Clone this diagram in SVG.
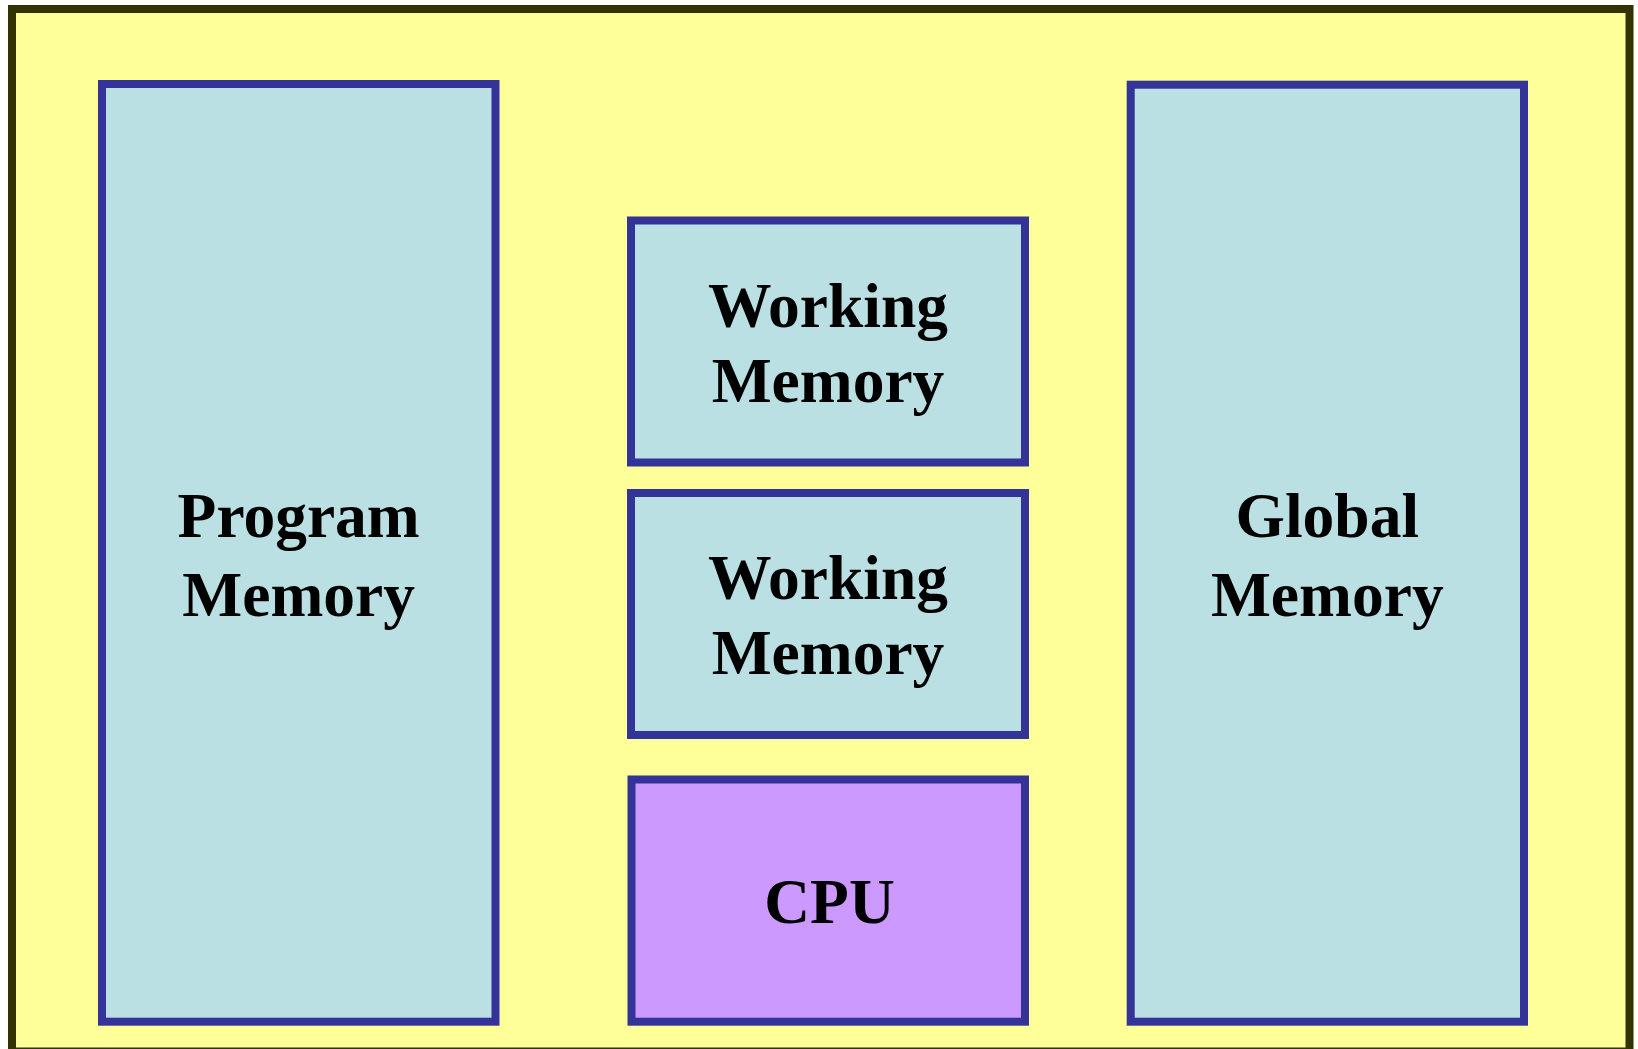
<svg xmlns="http://www.w3.org/2000/svg" width="1638" height="1049" viewBox="0 0 1638 1049">
  <style>
    .frame { fill: #FFFF99; stroke: #333300; stroke-width: 8; }
    .mem { fill: #BBE0E3; stroke: #333399; stroke-width: 8; }
    .cpu { fill: #CC99FF; stroke: #333399; stroke-width: 8; }
    .label { font-family: "Liberation Serif", "Times New Roman", serif; font-weight: bold; font-size: 63.5px; fill: #000000; text-anchor: middle; }
  </style>
  <rect width="1638" height="1049" fill="#FFFFFF"/>
  <!-- machine outline -->
  <rect id="machine" class="frame" x="12" y="9" width="1617.5" height="1042.5"/>

  <g id="program-memory">
    <rect class="mem" x="102" y="84" width="393.5" height="937.7"/>
    <text class="label" x="298.7" y="537">Program</text>
    <text class="label" x="298.7" y="616">Memory</text>
  </g>

  <g id="working-memory-1">
    <rect class="mem" x="631" y="220.5" width="394" height="242"/>
    <text class="label" x="828" y="326.7">Working</text>
    <text class="label" x="828" y="401.7">Memory</text>
  </g>

  <g id="working-memory-2">
    <rect class="mem" x="631" y="493" width="394" height="242"/>
    <text class="label" x="828" y="599.2">Working</text>
    <text class="label" x="828" y="674.2">Memory</text>
  </g>

  <g id="cpu">
    <rect class="cpu" x="631.5" y="779.5" width="393.5" height="242.2"/>
    <text class="label" x="829.5" y="923">CPU</text>
  </g>

  <g id="global-memory">
    <rect class="mem" x="1130.7" y="84.7" width="393.3" height="937"/>
    <text class="label" x="1327.3" y="537">Global</text>
    <text class="label" x="1327.3" y="616">Memory</text>
  </g>

  <g id="connectors"></g>
</svg>
